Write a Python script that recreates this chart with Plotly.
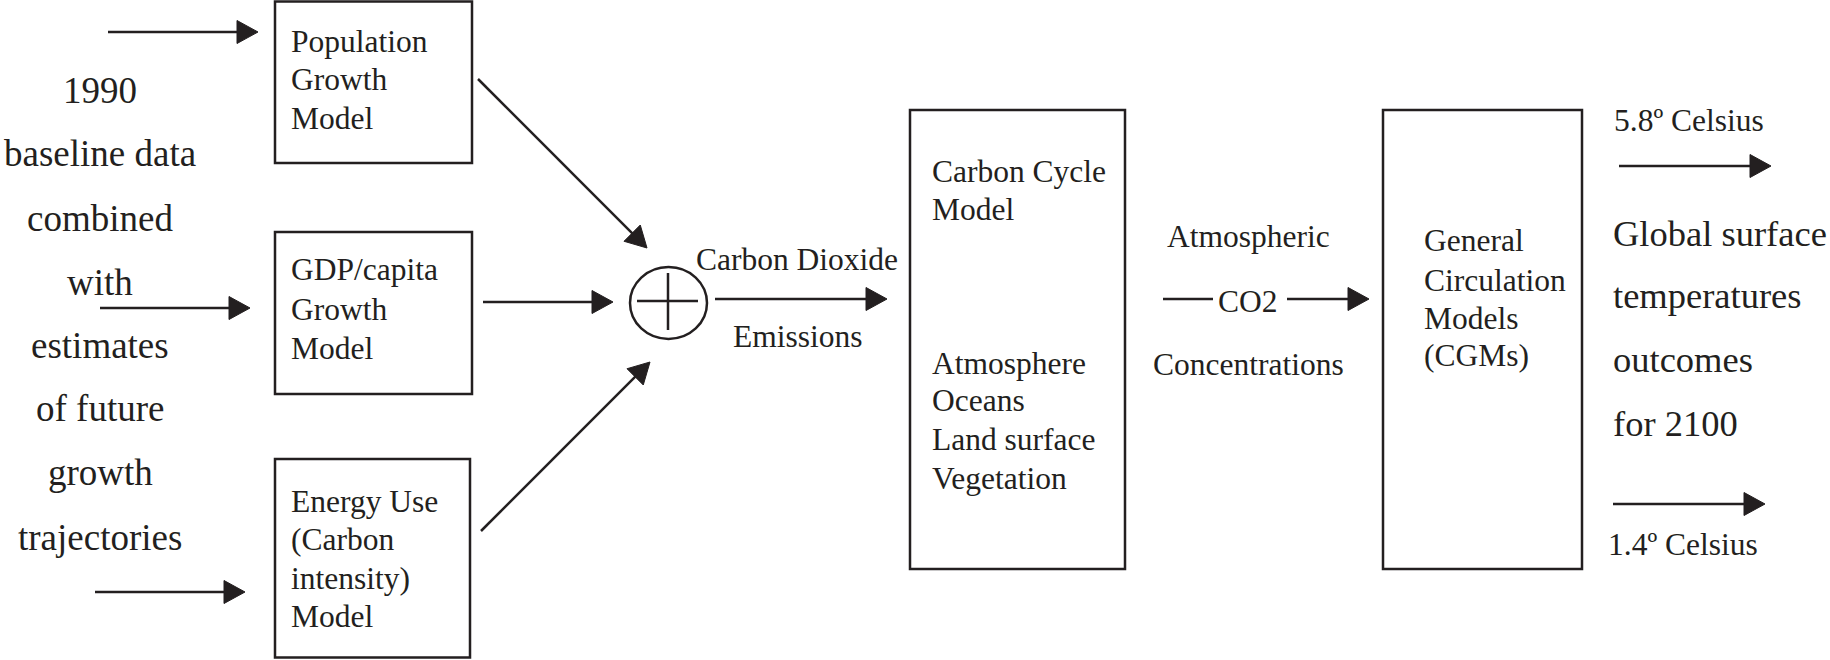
import math
import plotly.graph_objects as go

# ---- diagram texts ----
left_lines = ["1990", "baseline data", "combined", "with", "estimates",
              "of future", "growth", "trajectories"]
population_lines = ["Population", "Growth", "Model"]
gdp_lines = ["GDP/capita", "Growth", "Model"]
energy_lines = ["Energy Use", "(Carbon", "intensity)", "Model"]
carbon_top_lines = ["Carbon Cycle", "Model"]
carbon_bottom_lines = ["Atmosphere", "Oceans", "Land surface", "Vegetation"]
emission_labels = ["Carbon Dioxide", "Emissions"]
co2_labels = ["Atmospheric", "CO2", "Concentrations"]
gcm_lines = ["General", "Circulation", "Models", "(CGMs)"]
outcome_lines = ["Global surface", "temperatures", "outcomes", "for 2100"]
high_label = "5.8º Celsius"
low_label = "1.4º Celsius"

# ---- layout geometry (pixel space, y down) ----
W, H = 1830, 660
INK = "#231f20"
FONT = "Liberation Serif, Times New Roman, serif"
S_BOX = 31.5
S_BIG = 37
LW = 2.5

fig = go.Figure()
shapes = []
annotations = []


def text(t, x, baseline, size, anchor="left"):
    annotations.append(dict(
        x=x, y=baseline - 0.3375 * size + 2.5, xref="x", yref="y", text=t,
        showarrow=False, xanchor=anchor, yanchor="middle",
        font=dict(family=FONT, size=size, color=INK), borderpad=0))


def lines_block(lines, x, baselines, size, anchor="left"):
    for t, b in zip(lines, baselines):
        text(t, x, b, size, anchor)


def box(x0, y0, x1, y1):
    shapes.append(dict(type="rect", x0=x0, y0=y0, x1=x1, y1=y1,
                       xref="x", yref="y", line=dict(color=INK, width=LW),
                       fillcolor="rgba(0,0,0,0)"))


def line(x0, y0, x1, y1):
    shapes.append(dict(type="line", x0=x0, y0=y0, x1=x1, y1=y1,
                       xref="x", yref="y", line=dict(color=INK, width=LW)))


def arrow(x0, y0, x1, y1, L=21, w=11.5):
    dx, dy = x1 - x0, y1 - y0
    n = math.hypot(dx, dy)
    ux, uy = dx / n, dy / n
    px, py = -uy, ux
    bx, by = x1 - L * ux, y1 - L * uy
    line(x0, y0, bx + 2 * ux, by + 2 * uy)
    path = (f"M {x1},{y1} L {bx + w * px},{by + w * py} "
            f"L {bx - w * px},{by - w * py} Z")
    shapes.append(dict(type="path", path=path, xref="x", yref="y",
                       fillcolor=INK, line=dict(color=INK, width=1)))


# left column text
lines_block(left_lines, 100, [100, 163, 228, 292, 355, 418, 482, 547], S_BIG, "center")

# input arrows
arrow(108, 32, 258, 32)
arrow(100, 308, 250, 308)
arrow(95, 592, 245, 592)

# model boxes
box(275, 1.5, 472, 163)
lines_block(population_lines, 290, [50, 88, 127], S_BOX)
box(275, 232, 472, 394)
lines_block(gdp_lines, 290, [278, 318, 357], S_BOX)
box(275, 459, 470, 657.5)
lines_block(energy_lines, 290, [510, 548, 587, 625], S_BOX)

# arrows into summing junction
arrow(478, 79, 647, 248)
arrow(483, 302, 613, 302)
arrow(481, 531, 650, 362)

# summing junction
shapes.append(dict(type="circle", x0=630, y0=267, x1=707, y1=339, xref="x", yref="y",
                   line=dict(color=INK, width=LW), fillcolor="rgba(0,0,0,0)"))
line(637, 301, 698, 301)
line(668, 273, 668, 330)

# emissions arrow
arrow(715, 299, 887, 299)
text(emission_labels[0], 695, 268, S_BOX)
text(emission_labels[1], 798, 345, S_BOX, "center")

# carbon cycle box
box(910, 110, 1125, 569)
lines_block(carbon_top_lines, 931, [180, 218], S_BOX)
lines_block(carbon_bottom_lines, 931, [372, 409, 448, 487], S_BOX)

# CO2 concentrations
text(co2_labels[0], 1248, 245, S_BOX, "center")
line(1163, 299, 1213, 299)
text(co2_labels[1], 1248, 310, S_BOX, "center")
arrow(1287, 299, 1369, 299)
text(co2_labels[2], 1248, 373, S_BOX, "center")

# GCM box
box(1383, 110, 1582, 569)
lines_block(gcm_lines, 1423, [249, 289, 327, 364], S_BOX)

# outcomes
text(high_label, 1613, 129, S_BOX)
arrow(1619, 166, 1771, 166)
lines_block(outcome_lines, 1612, [243, 305, 369, 433], 36.5)
arrow(1613, 504, 1765, 504)
text(low_label, 1607, 553, S_BOX)

fig.update_layout(
    width=W, height=H,
    margin=dict(l=0, r=0, t=0, b=0),
    paper_bgcolor="white", plot_bgcolor="white",
    xaxis=dict(range=[0, W], visible=False, fixedrange=True),
    yaxis=dict(range=[H, 0], visible=False, fixedrange=True),
    shapes=shapes, annotations=annotations, showlegend=False,
)

fig.write_html(
    "out.html",
    config={"displayModeBar": False},
    post_script="document.body.style.margin='0';document.body.style.padding='0';"
                "document.body.style.overflow='hidden';",
)
